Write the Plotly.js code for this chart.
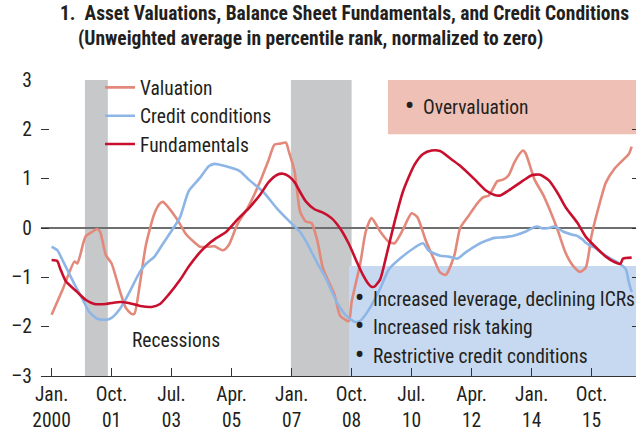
<!DOCTYPE html>
<html>
<head>
<meta charset="utf-8">
<script src="https://cdn.plot.ly/plotly-3.0.1.min.js"></script>
<style>
html,body{margin:0;padding:0;overflow:hidden;background:#fff;}
#chart{width:640px;height:434px;}
svg text, svg tspan{font-stretch:condensed !important;}
</style>
</head>
<body>
<div id="chart"></div>
<script>
// ---- Data ----
const valuationDates = ['2000-01','2000-05','2000-09','2000-10','2000-11','2000-12','2001-01','2001-02','2001-05','2001-06','2001-08','2001-10','2002-01','2002-03','2002-05','2002-06','2002-08','2002-10','2003-01','2003-03','2003-04','2003-05','2003-09','2003-12','2004-02','2004-05','2004-08','2004-10','2005-01','2005-03','2005-06','2005-10','2006-02','2006-05','2006-07','2006-09','2006-11','2006-12','2007-02','2007-03','2007-04','2007-06','2007-08','2007-10','2007-12','2008-04','2008-06','2008-09','2008-10','2009-01','2009-03','2009-05','2009-08','2009-11','2010-01','2010-04','2010-07','2010-09','2010-12','2011-03','2011-05','2011-07','2011-10','2011-12','2012-03','2012-06','2012-08','2012-10','2013-01','2013-03','2013-05','2013-07','2013-09','2013-10','2013-11','2014-02','2014-05','2014-08','2014-10','2015-01','2015-04','2015-06','2015-08','2015-10','2016-01','2016-03','2016-06','2016-09','2016-11','2016-12'];
const valuationValues = [-1.76,-1.23,-0.68,-0.72,-0.55,-0.32,-0.16,-0.12,-0.02,-0.08,-0.55,-0.72,-1.3,-1.62,-1.74,-1.74,-1.1,-0.35,0.3,0.5,0.53,0.48,0.17,-0.12,-0.24,-0.38,-0.38,-0.37,-0.45,-0.35,0.07,0.45,0.95,1.38,1.69,1.71,1.73,1.56,1.15,0.74,0.33,0.13,0.1,-0.25,-0.82,-1.35,-1.78,-1.89,-1.5,-0.72,-0.07,0.2,-0.07,-0.28,-0.31,-0.03,0.3,0.22,-0.26,-0.65,-0.9,-0.95,-0.55,0.0,0.25,0.5,0.62,0.66,0.95,0.98,1.07,1.33,1.52,1.57,1.5,0.98,0.68,0.28,-0.02,-0.52,-0.8,-0.89,-0.8,-0.15,0.54,0.92,1.2,1.38,1.5,1.65];

const creditDates = ['2000-01','2000-03','2000-05','2000-09','2000-12','2001-02','2001-05','2001-08','2001-10','2002-01','2002-04','2002-08','2002-10','2003-01','2003-04','2003-08','2003-10','2004-01','2004-05','2004-08','2004-10','2005-02','2005-07','2005-10','2006-03','2006-08','2006-12','2007-04','2007-06','2007-10','2008-01','2008-05','2008-08','2008-11','2009-01','2009-04','2009-08','2009-11','2010-03','2010-08','2010-11','2011-01','2011-05','2011-08','2011-11','2012-02','2012-06','2012-09','2012-12','2013-03','2013-07','2013-11','2014-02','2014-03','2014-05','2014-07','2014-09','2014-12','2015-03','2015-05','2015-06','2015-07','2015-08','2015-10','2015-11','2016-01','2016-03','2016-05','2016-08','2016-10','2016-11','2016-12'];
const creditValues = [-0.38,-0.45,-0.67,-1.14,-1.46,-1.69,-1.84,-1.86,-1.82,-1.63,-1.33,-0.88,-0.73,-0.58,-0.32,0.03,0.22,0.75,1.02,1.25,1.3,1.25,1.15,0.98,0.74,0.39,0.15,-0.08,-0.26,-0.71,-1.02,-1.52,-1.77,-1.9,-1.88,-1.66,-1.23,-0.84,-0.62,-0.4,-0.31,-0.46,-0.56,-0.58,-0.62,-0.49,-0.34,-0.26,-0.2,-0.19,-0.15,-0.07,0.02,0.03,-0.01,0.0,0.03,-0.07,-0.13,-0.16,-0.2,-0.24,-0.3,-0.37,-0.39,-0.48,-0.56,-0.63,-0.73,-0.84,-1.1,-1.3];

const fundamentalsDates = ['2000-01','2000-03','2000-04','2000-06','2000-10','2001-01','2001-04','2001-08','2002-01','2002-04','2002-08','2002-12','2003-03','2003-06','2003-10','2004-01','2004-05','2004-08','2004-10','2005-02','2005-06','2005-10','2006-02','2006-05','2006-08','2006-10','2006-12','2007-02','2007-04','2007-06','2007-09','2007-12','2008-03','2008-06','2008-09','2008-12','2009-02','2009-04','2009-05','2009-06','2009-08','2009-10','2010-01','2010-04','2010-08','2010-11','2011-02','2011-05','2011-09','2011-12','2012-05','2012-09','2012-12','2013-02','2013-05','2013-10','2014-01','2014-04','2014-07','2014-10','2015-01','2015-05','2015-08','2015-12','2016-03','2016-06','2016-08','2016-09','2016-12'];
const fundamentalsValues = [-0.65,-0.67,-0.82,-1.08,-1.3,-1.46,-1.54,-1.54,-1.5,-1.52,-1.58,-1.6,-1.54,-1.35,-1.05,-0.78,-0.49,-0.32,-0.23,-0.08,0.17,0.4,0.68,0.93,1.08,1.1,1.05,0.93,0.73,0.54,0.38,0.31,0.2,-0.01,-0.32,-0.71,-0.96,-1.14,-1.19,-1.19,-1.04,-0.6,0.12,0.74,1.28,1.5,1.57,1.56,1.39,1.26,0.99,0.76,0.67,0.66,0.76,0.96,1.07,1.08,0.97,0.72,0.41,0.11,-0.18,-0.42,-0.58,-0.69,-0.73,-0.62,-0.6];

const recessionStarts = ['2000-12-21','2006-12-24'];
const recessionEnds   = ['2001-08-22','2008-10-01'];

const xTickVals = ['2000-01-01','2001-10-01','2003-07-01','2005-04-01','2007-01-01','2008-10-01','2010-07-01','2012-04-01','2014-01-01','2015-10-01'];
const xTickText = ['Jan.<br>2000','Oct.<br>01','Jul.<br>03','Apr.<br>05','Jan.<br>07','Oct.<br>08','Jul.<br>10','Apr.<br>12','Jan.<br>14','Oct.<br>15'];
const yTickVals = [-3,-2,-1,0,1,2,3];
const yTickText = ['–3','–2','–1','0','1','2','3'];

// ---- Styling ----
const FONT = "Roboto, 'Liberation Sans', sans-serif";
const TXT = '#231f20';
const FS = 19.5;
const BULLET = '<span style="font-size:25px;font-weight:bold">•</span>';

const traces = [
  {x: valuationDates, y: valuationValues, name: 'Valuation', legendgroup:'a',
   type:'scatter', mode:'lines', line:{color:'#e3897b', width:2.6, shape:'spline', smoothing:0.6}},
  {x: creditDates, y: creditValues, name: 'Credit conditions', legendgroup:'b',
   type:'scatter', mode:'lines', line:{color:'#8db6e6', width:2.6, shape:'spline', smoothing:0.6}},
  {x: fundamentalsDates, y: fundamentalsValues, name: 'Fundamentals', legendgroup:'c',
   type:'scatter', mode:'lines', line:{color:'#c8102e', width:2.6, shape:'spline', smoothing:0.6}}
];

const shapes = [];
for (let i = 0; i < recessionStarts.length; i++) {
  shapes.push({type:'rect', xref:'x', yref:'paper', x0:recessionStarts[i], x1:recessionEnds[i], y0:0, y1:1,
    fillcolor:'#c7c8ca', line:{width:0}, layer:'below'});
}
shapes.push({type:'rect', xref:'paper', yref:'y', x0:0.5142, x1:1, y0:-3, y1:-0.77,
  fillcolor:'#c6d9f1', line:{width:0}, layer:'below'});
shapes.push({type:'rect', xref:'paper', yref:'y', x0:0.5793, x1:1, y0:1.9, y1:3,
  fillcolor:'#efc0b5', line:{width:0}, layer:'below'});

function ann(text, x, y, xanchor) {
  return {text:text, xref:'paper', yref:'paper', x:x, y:y, xanchor:xanchor||'left', yanchor:'middle',
    showarrow:false, font:{family:FONT, size:FS, color:TXT}};
}
const annotations = [
  ann('Recessions', 0.2254, 0.1216, 'center'),
  ann(BULLET + '&nbsp;&nbsp;Overvaluation', 0.6037, 0.915),
  ann(BULLET + '&nbsp;&nbsp;Increased leverage, declining ICRs', 0.5205, 0.265),
  ann(BULLET + '&nbsp;&nbsp;Increased risk taking', 0.5205, 0.170),
  ann(BULLET + '&nbsp;&nbsp;Restrictive credit conditions', 0.5205, 0.072)
];

const layout = {
  width:640, height:434,
  margin:{l:41, r:0, t:80, b:58},
  paper_bgcolor:'#fff', plot_bgcolor:'rgba(0,0,0,0)',
  font:{family:FONT, size:FS, color:TXT},
  title:{text:'<b>1.&nbsp;&nbsp;Asset Valuations, Balance Sheet Fundamentals, and Credit Conditions</b><br><b>&nbsp;&nbsp;&nbsp;&nbsp;(Unweighted average in percentile rank, normalized to zero)</b>',
    font:{family:FONT, size:19.5, color:TXT}, xref:'container', yref:'container',
    x:60/640, xanchor:'left', y:1-20/434, yanchor:'top', automargin:false},
  showlegend:true,
  legend:{x:(100-41)/599, xanchor:'left', y:1.04, yanchor:'top', bgcolor:'rgba(0,0,0,0)',
    font:{family:FONT, size:FS, color:TXT}, tracegroupgap:0, itemwidth:30},
  xaxis:{type:'date', range:['1999-09-10','2017-02-28'], tickvals:xTickVals, ticktext:xTickText,
    ticks:'inside', ticklen:8, tickcolor:'#333', tickwidth:1, showgrid:false, zeroline:false,
    showline:true, linecolor:'#333', linewidth:1, tickfont:{family:FONT, size:FS, color:TXT},
    ticklabelstandoff:1},
  yaxis:{range:[-3,3], tickvals:yTickVals, ticktext:yTickText, ticks:'inside', ticklen:8,
    tickcolor:'#333', tickwidth:1, mirror:'ticks', showgrid:false, showline:false,
    zeroline:true, zerolinecolor:'#6d6e70', zerolinewidth:1.3,
    tickfont:{family:FONT, size:FS, color:TXT}, ticklabelstandoff:8},
  shapes:shapes,
  annotations:annotations
};

Plotly.newPlot('chart', traces, layout, {displayModeBar:false, staticPlot:true});
</script>
</body>
</html>
